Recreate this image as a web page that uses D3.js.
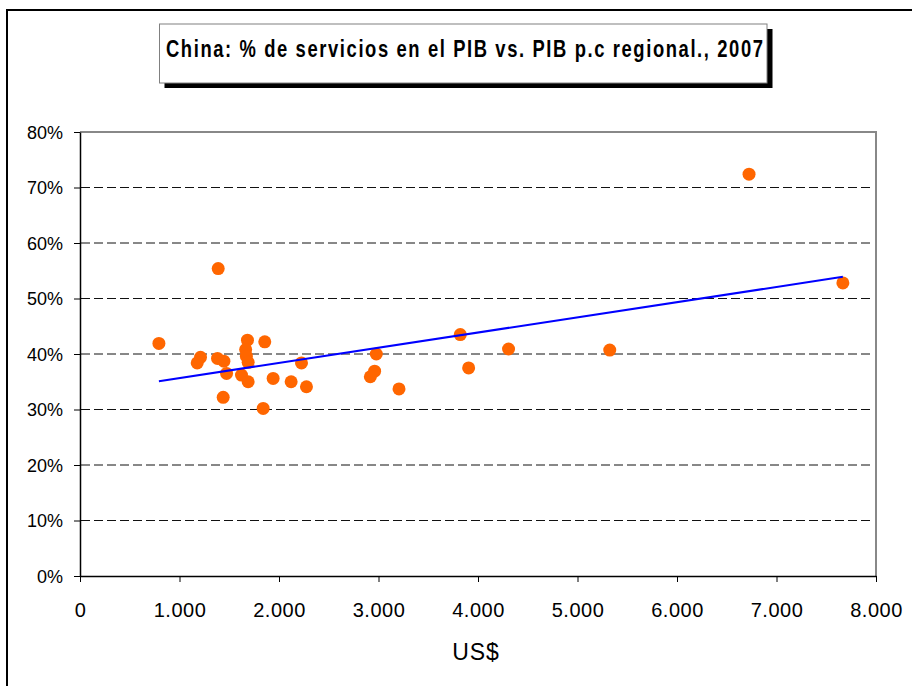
<!DOCTYPE html>
<html>
<head>
<meta charset="utf-8">
<script src="https://cdn.jsdelivr.net/npm/d3@7"></script>
<style>
  body { margin: 0; background: #fff; }
  svg { display: block; font-family: "Liberation Sans", Arial, sans-serif; }
</style>
</head>
<body>
<div id="chart"></div>
<script>
// PIB per capita (US$) and share of services in PIB (%) by province
var pibPc = [793, 1211, 1178, 1382, 1389, 1446, 1473, 1439, 1683, 1665, 1672, 1690, 1623, 1690,
  1857, 1841, 1941, 2122, 2226, 2276, 2978, 2961, 2918, 3206, 3822, 3906, 4307, 5324, 6724, 7667];
var servicios = [41.9, 39.4, 38.4, 39.2, 55.4, 38.7, 36.5, 32.2, 42.5, 40.8, 39.6, 38.5, 36.2, 35.0,
  42.2, 30.2, 35.6, 35.0, 38.4, 34.1, 40.0, 36.9, 35.9, 33.7, 43.5, 37.5, 40.9, 40.7, 72.4, 52.8];
// linear trend
var trendX = [793, 7667];
var trendY = [35.1, 53.9];
var xTicks = [0, 1000, 2000, 3000, 4000, 5000, 6000, 7000, 8000];
var yTicks = [0, 10, 20, 30, 40, 50, 60, 70, 80];
var titulo = "China: % de servicios en el PIB vs. PIB p.c regional., 2007";

var W = 912, H = 686;
var svg = d3.select("#chart").append("svg").attr("width", W).attr("height", H);

// outer chart frame (runs off right/bottom edge)
svg.append("rect").attr("x", 7).attr("y", 10).attr("width", 940).attr("height", 720)
  .attr("fill", "#fff").attr("stroke", "#000").attr("stroke-width", 2);

// title box with shadow
svg.append("rect").attr("x", 164.5).attr("y", 29).attr("width", 608).attr("height", 59).attr("fill", "#000");
svg.append("rect").attr("x", 159.5).attr("y", 24).attr("width", 607.5).attr("height", 59)
  .attr("fill", "#fff").attr("stroke", "#808080").attr("stroke-width", 1);
// condensed bold title: squeeze horizontally, then spread to the box width
var sx = 0.8;
svg.append("text").attr("transform", "translate(166,57) scale(" + sx + ",1)")
  .attr("textLength", 597 / sx).attr("lengthAdjust", "spacing")
  .style("font-weight", "bold").style("font-size", "23px")
  .text(titulo);

var x = d3.scaleLinear().domain([0, 8000]).range([80, 876]);
var y = d3.scaleLinear().domain([0, 80]).range([576, 132]);

// gridlines
svg.append("g").selectAll("line").data(yTicks.filter(function(d){ return d > 0 && d < 80; }))
  .enter().append("line")
  .attr("x1", 81).attr("x2", 873)
  .attr("y1", function(d){ return y(d); }).attr("y2", function(d){ return y(d); })
  .attr("stroke", "#111").attr("stroke-width", 1).attr("stroke-dasharray", "9,4");

// plot frame top/right in gray
svg.append("path").attr("d", "M" + x(0) + "," + y(80) + "H" + x(8000) + "V" + y(0))
  .attr("fill", "none").attr("stroke", "#888").attr("stroke-width", 2);

var fmtX = function(d){ return d3.format(",")(d).replace(/,/g, "."); };
var xAxis = svg.append("g").attr("transform", "translate(0," + y(0) + ")")
  .call(d3.axisBottom(x).tickValues(xTicks).tickSize(6).tickSizeOuter(0).tickPadding(10).tickFormat(fmtX));
xAxis.selectAll("text").attr("dy", 0).attr("y", 41).style("font-size", "20px")
  .style("letter-spacing", "0.5px").attr("fill", "#000");

var yAxis = svg.append("g").attr("transform", "translate(" + x(0) + ",0)")
  .call(d3.axisLeft(y).tickValues(yTicks).tickSize(6).tickSizeOuter(0).tickPadding(0)
    .tickFormat(function(d){ return d + "%"; }));
yAxis.selectAll("text").attr("x", -17).attr("dy", "0.35em").style("font-size", "18px").attr("fill", "#000");
svg.selectAll(".domain").attr("stroke", "#000").attr("stroke-width", 1.5);
svg.selectAll(".tick line").attr("stroke", "#000");

// axis title
svg.append("text").attr("x", 476).attr("y", 660).attr("text-anchor", "middle")
  .style("font-size", "23px").style("letter-spacing", "1px").text("US$");

// points
svg.append("g").selectAll("circle").data(pibPc).enter().append("circle")
  .attr("cx", function(d){ return x(d); })
  .attr("cy", function(d, i){ return y(servicios[i]); })
  .attr("r", 6.5).attr("fill", "#FF6600");

// trend line
svg.append("line")
  .attr("x1", x(trendX[0])).attr("y1", y(trendY[0]))
  .attr("x2", x(trendX[1])).attr("y2", y(trendY[1]))
  .attr("stroke", "#0000FF").attr("stroke-width", 2);
</script>
</body>
</html>
